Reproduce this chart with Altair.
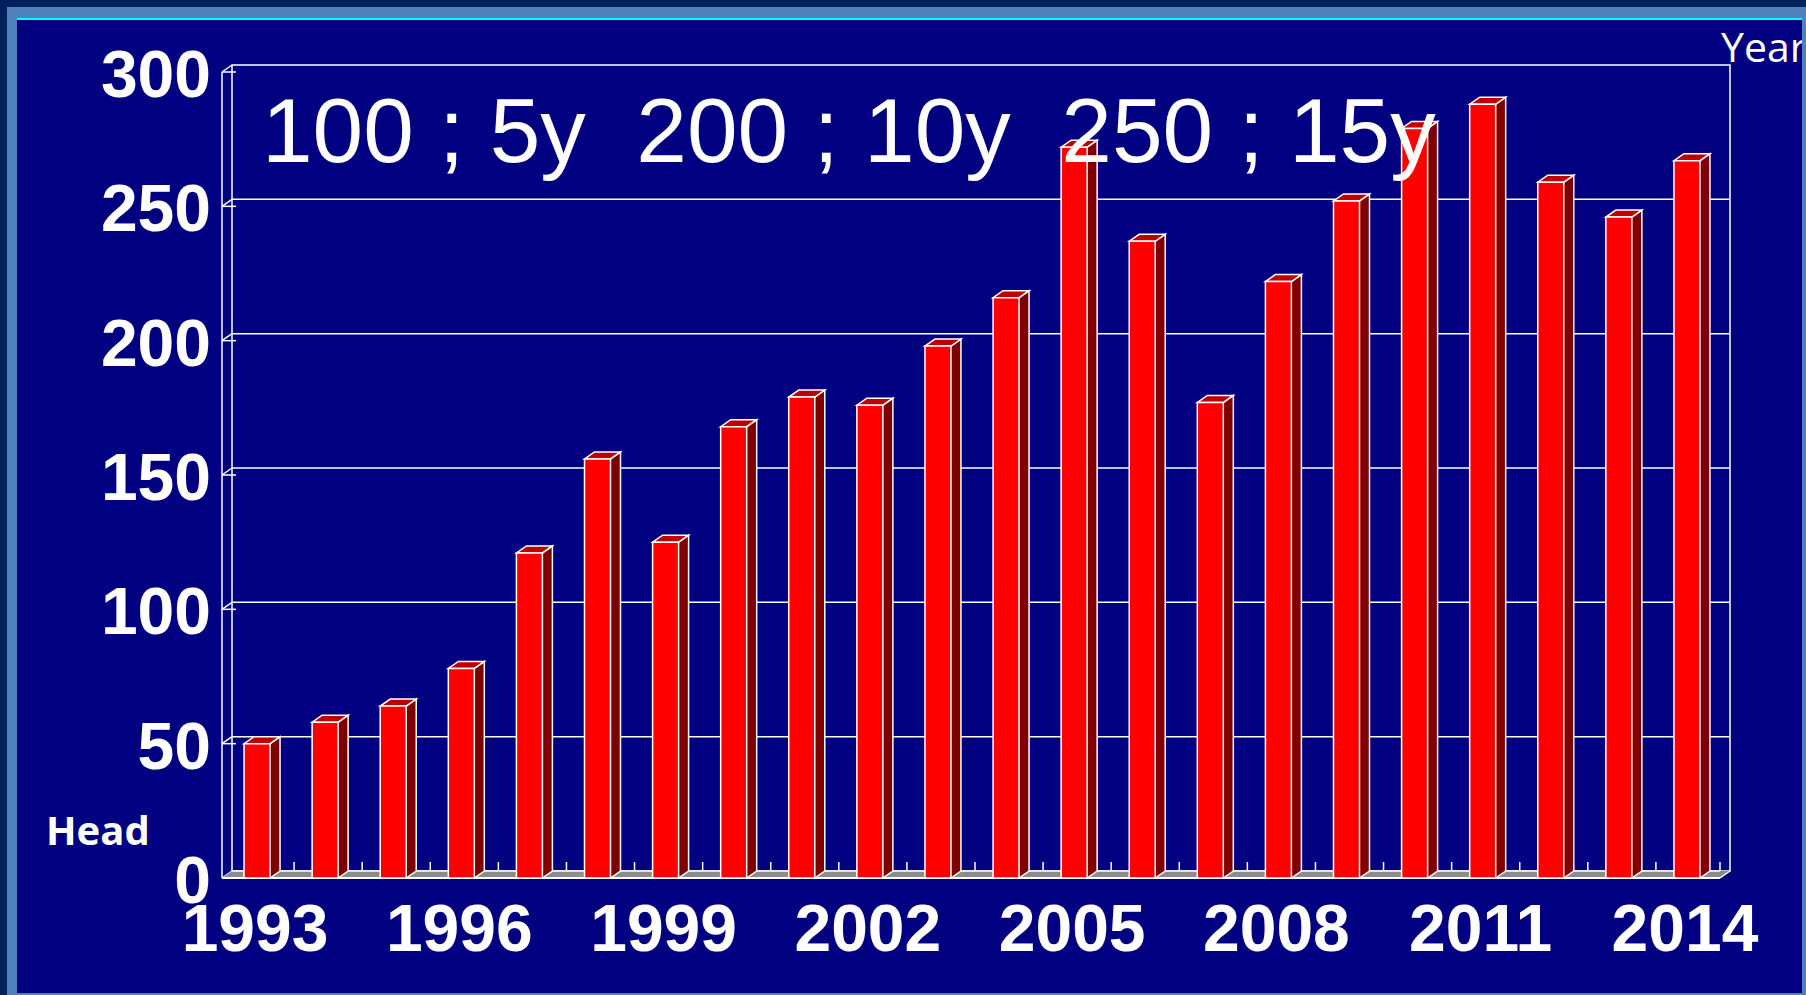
import altair as alt
import pandas as pd

# ---------------- data ----------------
years = list(range(1993, 2015))
heads = [50, 58, 64, 78, 121, 156, 125, 168, 179, 176, 198, 216,
         272, 237, 177, 222, 252, 279, 288, 259, 246, 267]
y_ticks = [0, 50, 100, 150, 200, 250, 300]
y_tick_labels = ["0", "50", "100", "150", "200", "250", "300"]
x_label_years = [1993, 1996, 1999, 2002, 2005, 2008, 2011, 2014]
x_tick_labels = ["1993", "1996", "1999", "2002", "2005", "2008", "2011", "2014"]
annotation = "100 ;\u00a05y\u00a0\u00a0200 ;\u00a010y\u00a0\u00a0250 ;\u00a015y"
y_title = "Head"
x_title = "Year"

# ---------------- geometry (style) ----------------
W, H = 1498, 806
X0, X1 = 1992.5, 2014.5
YMAX = 300
step = W / (X1 - X0)
ppu = H / YMAX
DXP, DYP, FW = 10, 7, 26          # depth (px) and front width (px)
DX = DXP / step                   # depth in years
DY = DYP / ppu                    # depth in units
F0 = -12 / step                   # bar left (back plane) rel. to band centre
F1 = F0 + FW / step
XF = X0 - DX                      # front axis x

NAVY = "#000080"
xs = alt.Scale(domain=[X0, X1], nice=False, zero=False)
ys = alt.Scale(domain=[0, YMAX], nice=False, zero=False)


def X(f):
    return alt.X(f, type="quantitative", scale=xs, axis=None)


def Y(f):
    return alt.Y(f, type="quantitative", scale=ys, axis=None)


def fmt(v):
    return f"{v:.4f}"


# custom symbol paths (unit = sqrt(size)/2 px)
half_top = (FW + DXP) / 2
top_shape = (f"M -1 {fmt(DYP/2/half_top)} L {fmt((FW - half_top)/half_top)} {fmt(DYP/2/half_top)} "
             f"L 1 {fmt(-DYP/2/half_top)} L {fmt((DXP - half_top)/half_top)} {fmt(-DYP/2/half_top)} Z")
top_size = (2 * half_top) ** 2
r = DYP / DXP
tri_side = f"M -1 {fmt(-r)} L -1 {fmt(r)} L 1 {fmt(-r)} Z"       # lower-left of side face
tri_left = f"M -1 {fmt(r)} L 1 {fmt(-r)} L 1 {fmt(r)} Z"         # floor left end
tri_right = f"M -1 {fmt(r)} L 1 {fmt(-r)} L -1 {fmt(-r)} Z"      # floor right end
tri_size = DXP ** 2

one = pd.DataFrame({"k": [0]})

# ---------------- tables built from arrays ----------------
bars = pd.DataFrame({
    "year": years,
    "v": heads,
    "x0": [y + F0 - DX for y in years],
    "x1": [y + F1 - DX for y in years],
    "sx0": [y + F1 - DX for y in years],
    "sx1": [y + F1 for y in years],
    "smid": [y + F1 - DX / 2 for y in years],
    "tmid": [y + F0 - DX + (FW + DXP) / 2 / step for y in years],
    "top": [v - DY for v in heads],
    "tc": [v - DY / 2 for v in heads],
    "bot": [-DY] * len(years),
    "zero": [0] * len(years),
    "bc": [-DY / 2] * len(years),
})

side_out = []
for y, v in zip(years, heads):
    fx1 = y + F1 - DX
    for i, (px, py) in enumerate([(fx1, v - DY), (fx1 + DX, v), (fx1 + DX, 0), (fx1, -DY)]):
        side_out.append({"year": y, "o": i, "px": px, "py": py})
side_o = pd.DataFrame(side_out)

grid = pd.DataFrame({"v": [t for t in y_ticks if 0 < t < YMAX], "xa": X0, "xb": X1})
ytk = pd.DataFrame({
    "v": y_ticks,
    "vf": [t - DY for t in y_ticks],
    "xf": XF,
    "xb": X0,
    "xt": XF + 14 / step,
    "lab": y_tick_labels,
})
xlab = pd.DataFrame({"px": [y - 11 / step for y in x_label_years], "lab": x_tick_labels})
floor = pd.DataFrame({"xa": [X0], "xb": [X1 - DX], "ya": [-DY], "yb": [0]})
floor_ends = pd.DataFrame({"px": [X0 - DX / 2], "py": [-DY / 2]})
floor_ends_r = pd.DataFrame({"px": [X1 - DX / 2], "py": [-DY / 2]})
ftick = pd.DataFrame({"px": [y + 0.5 - 6 / step for y in years[:-1]] + [X1 - DX],
                      "a": 0, "b": 9 / ppu})
wall = pd.DataFrame({"xa": [X0], "xb": [X1], "ya": [0], "yb": [YMAX]})
front_axis = pd.DataFrame({"px": [XF], "ya": [-DY], "yb": [YMAX - DY]})
front_line = pd.DataFrame({"xa": [XF], "xb": [X1 - DX], "py": [-DY]})
right_edge = pd.DataFrame({"xa": [X1 - DX], "xb": [X1], "ya": [-DY], "yb": [0]})


# ---------------- layers ----------------
def frame_rect(color, x, x2, y, y2):
    return alt.Chart(one).mark_rect().encode(
        x=alt.value(x), x2=alt.value(x2), y=alt.value(y), y2=alt.value(y2),
        fill=alt.value(color))


steel = frame_rect("#4F81BD", -225, 1574, -58, 930)
inner = frame_rect(NAVY, -215, 1570, -45, 928)
cyan = frame_rect("#00FFFF", -215, 1570, -47, -45)

wall_l = alt.Chart(wall).mark_rect(fill=NAVY, stroke="white", strokeWidth=1.5).encode(
    x=X("xa"), x2=alt.X2("xb"), y=Y("ya"), y2=alt.Y2("yb"))
grid_l = alt.Chart(grid).mark_rule(color="white", strokeWidth=1.5).encode(
    x=X("xa"), x2=alt.X2("xb"), y=Y("v"))
diag_l = alt.Chart(ytk).mark_rule(color="white", strokeWidth=1.5).encode(
    x=X("xf"), x2=alt.X2("xb"), y=Y("vf"), y2=alt.Y2("v"))
tick_l = alt.Chart(ytk).mark_rule(color="white", strokeWidth=1.5).encode(
    x=X("xf"), x2=alt.X2("xt"), y=Y("vf"))
faxis_l = alt.Chart(front_axis).mark_rule(color="white", strokeWidth=1.5).encode(
    x=X("px"), y=Y("ya"), y2=alt.Y2("yb"))

GRAY = "#8C8C8C"
floor_l = alt.Chart(floor).mark_rect(fill=GRAY, strokeWidth=0).encode(
    x=X("xa"), x2=alt.X2("xb"), y=Y("ya"), y2=alt.Y2("yb"))
floor_le = alt.Chart(floor_ends).mark_point(
    shape=tri_left, size=tri_size, filled=True, fill=GRAY, opacity=1, strokeWidth=0).encode(
    x=X("px"), y=Y("py"))
floor_re = alt.Chart(floor_ends_r).mark_point(
    shape=tri_right, size=tri_size, filled=True, fill=GRAY, opacity=1, strokeWidth=0).encode(
    x=X("px"), y=Y("py"))
bline_l = alt.Chart(floor).mark_rule(color="white", strokeWidth=1.5).encode(
    x=X("xa"), x2=alt.X2("xb"), y=alt.value(H))
ftick_l = alt.Chart(ftick).mark_rule(color="white", strokeWidth=1.5).encode(
    x=X("px"), y=Y("a"), y2=alt.Y2("b"))
fline_l = alt.Chart(front_line).mark_rule(color="white", strokeWidth=2).encode(
    x=X("xa"), x2=alt.X2("xb"), y=Y("py"))
redge_l = alt.Chart(right_edge).mark_rule(color="white", strokeWidth=1.5).encode(
    x=X("xa"), x2=alt.X2("xb"), y=Y("ya"), y2=alt.Y2("yb"))

base = alt.Chart(bars)
side_rect = base.mark_rect(fill="#800000", strokeWidth=0).encode(
    x=X("sx0"), x2=alt.X2("sx1"), y=Y("v"), y2=alt.Y2("zero"))
side_tri = base.mark_point(
    shape=tri_side, size=tri_size, filled=True, fill="#800000", opacity=1,
    strokeWidth=0).encode(x=X("smid"), y=Y("bc"))
side_ol = alt.Chart(side_o).mark_line(strokeWidth=1.5, interpolate="linear").encode(
    x=X("px"), y=Y("py"), detail="year:N", order=alt.Order("o:Q"),
    color=alt.value("white"))
top_face = base.mark_point(
    shape=top_shape, size=top_size, filled=True, fill="#C00000", opacity=1,
    stroke="white", strokeWidth=1.5).encode(x=X("tmid"), y=Y("tc"))
front_l = base.mark_rect(fill="#FF0000", stroke="white", strokeWidth=1.5).encode(
    x=X("x0"), x2=alt.X2("x1"), y=Y("top"), y2=alt.Y2("bot"))

ylab_l = alt.Chart(ytk).mark_text(font="Liberation Sans", fontWeight="bold", fontSize=66,
                                  color="white", align="right", baseline="alphabetic",
                                  dy=25).encode(
    x=alt.value(-21), y=Y("vf"), text="lab:N")
xlab_l = alt.Chart(xlab).mark_text(font="Liberation Sans", fontWeight="bold", fontSize=66,
                                   color="white", align="center",
                                   baseline="alphabetic").encode(
    x=X("px"), y=alt.value(886), text="lab:N")

ann = pd.DataFrame({"t": [annotation]})
ann_l = alt.Chart(ann).mark_text(font="Liberation Sans", fontSize=91, color="white",
                                 align="left", baseline="alphabetic").encode(
    x=alt.value(30), y=alt.value(97), text="t:N")
head_l = alt.Chart(pd.DataFrame({"t": [y_title]})).mark_text(
    font="Open Sans", fontWeight="bold", fontSize=40, color="white",
    align="left", baseline="alphabetic").encode(
    x=alt.value(-186), y=alt.value(780), text="t:N")
year_l = alt.Chart(pd.DataFrame({"t": [x_title]})).mark_text(
    font="Open Sans", fontSize=41, color="white",
    align="left", baseline="alphabetic").encode(
    x=alt.value(1489), y=alt.value(-3), text="t:N")
right_strip = frame_rect("#4F81BD", 1570, 1574, -58, 930)

chart = alt.layer(
    steel, inner, cyan,
    wall_l, grid_l, diag_l, tick_l, faxis_l,
    floor_l, floor_le, floor_re, bline_l, ftick_l, fline_l, redge_l,
    side_rect, side_tri, side_ol, top_face, front_l,
    ylab_l, xlab_l, ann_l, head_l, year_l, right_strip,
).properties(
    width=W, height=H,
    background="#00205B",
    padding={"left": 232, "top": 65, "right": 76, "bottom": 124},
    autosize=alt.AutoSizeParams(type="none"),
).configure_view(stroke=None)

chart.save("out.html", embed_options={"renderer": "svg", "actions": False})
